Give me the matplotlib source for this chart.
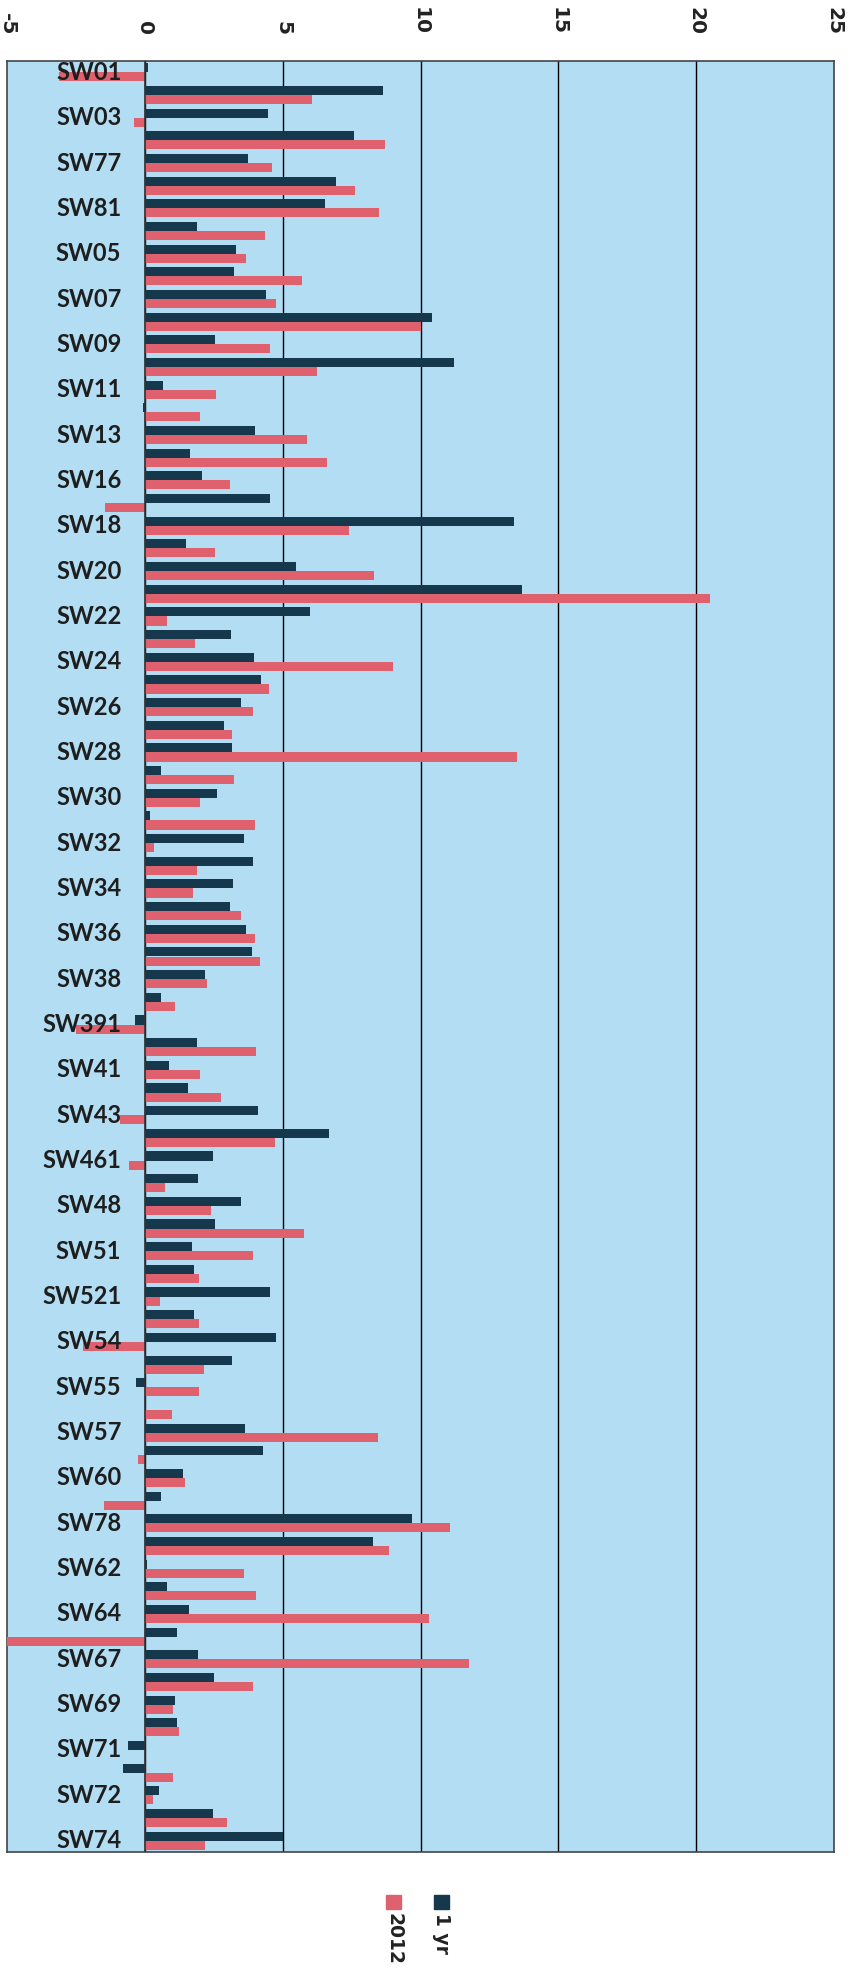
import numpy as np
import matplotlib
matplotlib.use("Agg")
import matplotlib.pyplot as plt
from matplotlib.patches import Rectangle

# labels shown on every other category (Excel skipped the rest)
shown_labels = ["SW01", "SW03", "SW77", "SW81", "SW05", "SW07", "SW09", "SW11",
                "SW13", "SW16", "SW18", "SW20", "SW22", "SW24", "SW26", "SW28",
                "SW30", "SW32", "SW34", "SW36", "SW38", "SW391", "SW41", "SW43",
                "SW461", "SW48", "SW51", "SW521", "SW54", "SW55", "SW57", "SW60",
                "SW78", "SW62", "SW64", "SW67", "SW69", "SW71", "SW72", "SW74"]

series_names = ["1 yr", "2012"]

one_yr = [0.1, 8.65, 4.47, 7.6, 3.76, 6.92, 6.52, 1.89, 3.3, 3.24,
          4.4, 10.4, 2.53, 11.2, 0.66, -0.05, 3.98, 1.63, 2.09, 4.53,
          13.4, 1.5, 5.5, 13.7, 6.0, 3.12, 3.96, 4.2, 3.48, 2.88,
          3.16, 0.6, 2.6, 0.2, 3.58, 3.94, 3.2, 3.08, 3.68, 3.88,
          2.19, 0.6, -0.36, 1.91, 0.89, 1.57, 4.12, 6.68, 2.47, 1.93,
          3.5, 2.54, 1.71, 1.77, 4.53, 1.77, 4.77, 3.18, -0.32, 0.0,
          3.62, 4.29, 1.39, 0.6, 9.68, 8.27, 0.08, 0.82, 1.59, 1.17,
          1.93, 2.5, 1.09, 1.15, -0.62, -0.78, 0.5, 2.49, 5.0]

y2012 = [-3.1, 6.06, -0.4, 8.7, 4.63, 7.61, 8.51, 4.37, 3.68, 5.71,
         4.75, 10.0, 4.53, 6.26, 2.58, 1.99, 5.9, 6.6, 3.08, -1.43,
         7.4, 2.56, 8.3, 20.5, 0.8, 1.83, 8.99, 4.5, 3.92, 3.16,
         13.5, 3.24, 1.99, 3.98, 0.34, 1.89, 1.73, 3.48, 3.98, 4.16,
         2.25, 1.11, -2.5, 4.04, 1.99, 2.76, -0.91, 4.73, -0.58, 0.74,
         2.39, 5.77, 3.94, 1.97, 0.54, 1.97, -2.25, 2.13, 1.97, 0.97,
         8.47, -0.24, 1.47, -1.47, 11.07, 8.87, 3.6, 4.04, 10.3, -5.3,
         11.77, 3.94, 1.03, 1.23, 0.0, 1.01, 0.28, 2.98, 2.17]

x_ticks = [-5, 0, 5, 10, 15, 20, 25]

dark = "#16384d"
red = "#df616d"
bg = "#b2ddf3"

W, H = 861, 1971
fig = plt.figure(figsize=(W / 100, H / 100), dpi=100)
ax = fig.add_axes([7 / W, 1 - 1852 / H, (834 - 7) / W, (1852 - 61) / H])
ax.set_facecolor(bg)

n = len(one_yr)
pos = np.arange(n)
bh = 0.4
ax.barh(pos - bh / 2, one_yr, height=bh, color=dark, zorder=3)
ax.barh(pos + bh / 2, y2012, height=bh, color=red, zorder=3)

ax.set_xlim(-5, 25)
ax.set_ylim(n - 0.5, -0.5)

for xv in x_ticks[1:-1]:
    ax.axvline(xv, color="black", lw=1.0, zorder=2)
ax.axvline(0, color="#333333", lw=1.2, zorder=4)

for sp in ax.spines.values():
    sp.set_color("#444444")
    sp.set_linewidth(1.2)

ax.xaxis.tick_top()
ax.set_xticks(x_ticks)
ax.set_xticklabels([str(v) for v in x_ticks], rotation=-90, fontsize=14.5,
                   fontweight="bold", color="#222222", family="DejaVu Sans")
ax.tick_params(axis="x", length=0, pad=18.5)
ax.set_yticks([])

# category labels sit inside the plot, just left of the zero line
for k, lab in enumerate(shown_labels):
    ax.text(-0.85, pos[2 * k], lab, ha="right", va="center", fontsize=17,
            fontweight="bold", color="#1e1e1e", family="Lato", zorder=5)

# legend drawn by hand with rotated text
leg_x = [434, 386]
for name, col, lx in zip(series_names, [dark, red], leg_x):
    fig.add_artist(Rectangle((lx / W, 1 - 1909 / H), 15 / W, 14 / H,
                             transform=fig.transFigure, color=col))
    fig.text((lx + 8) / W, 1 - 1913 / H, name, rotation=-90, ha="center", va="top",
             fontsize=13.5, fontweight="bold", color="#222222", family="DejaVu Sans")

fig.savefig("out.png", dpi=100, facecolor="white")
